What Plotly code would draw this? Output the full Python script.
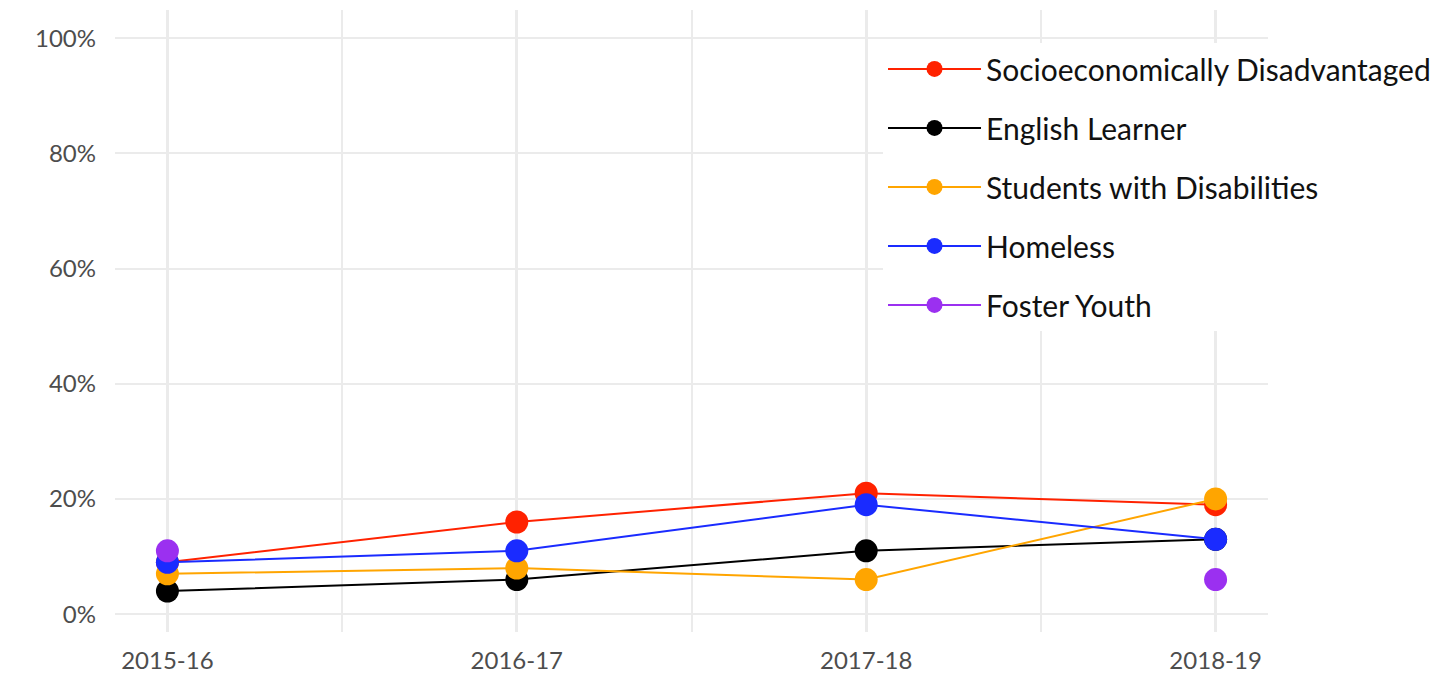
import plotly.graph_objects as go

years = ["2015-16", "2016-17", "2017-18", "2018-19"]
x_pos = [0, 1, 2, 3]

series_names = ["Socioeconomically Disadvantaged", "English Learner",
                "Students with Disabilities", "Homeless", "Foster Youth"]
sed = [0.09, 0.16, 0.21, 0.19]
el = [0.04, 0.06, 0.11, 0.13]
swd = [0.07, 0.08, 0.06, 0.20]
homeless = [0.09, 0.11, 0.19, 0.13]
foster = [0.11, None, None, 0.06]
colors = ["#FF2200", "#000000", "#FFA500", "#1A2BFF", "#9B30F0"]

y_ticks = [0, 0.2, 0.4, 0.6, 0.8, 1.0]

fig = go.Figure()
for i, (name, vals) in enumerate(zip(series_names, [sed, el, swd, homeless, foster])):
    fig.add_trace(go.Scatter(
        x=x_pos, y=vals, name=name, mode="lines+markers",
        line=dict(color=colors[i], width=2),
        marker=dict(color=colors[i], size=23),
        connectgaps=False, legendgroup=f"g{i}",
    ))

fig.update_layout(
    width=1450, height=673,
    margin=dict(l=107, r=190, t=2, b=49),
    plot_bgcolor="white", paper_bgcolor="white",
    font=dict(family="Lato", color="#4d4d4d"),
    showlegend=True,
    legend=dict(
        x=0.6661, y=0.947, xanchor="left", yanchor="top",
        bgcolor="white", font=dict(family="Lato", size=30, color="#111111"),
        tracegroupgap=17, itemwidth=93,
    ),
)
fig.update_xaxes(
    range=[-0.15, 3.15], tickvals=x_pos, ticktext=years,
    showgrid=True, gridcolor="#ebebeb", gridwidth=3,
    minor=dict(tickvals=[0.5, 1.5, 2.5], showgrid=True, gridcolor="#ebebeb", gridwidth=2, ticks=""),
    zeroline=False, showline=False, ticks="", ticklabelstandoff=12,
    tickfont=dict(family="Lato", size=24, color="#4d4d4d"),
)
fig.update_yaxes(
    range=[-0.031, 1.049], tickvals=y_ticks, tickformat=".0%",
    showgrid=True, gridcolor="#ebebeb", gridwidth=2,
    zeroline=False, showline=False, ticks="", ticklabelstandoff=18,
    tickfont=dict(family="Lato", size=24, color="#4d4d4d"),
)

fig.write_html("out.html")
